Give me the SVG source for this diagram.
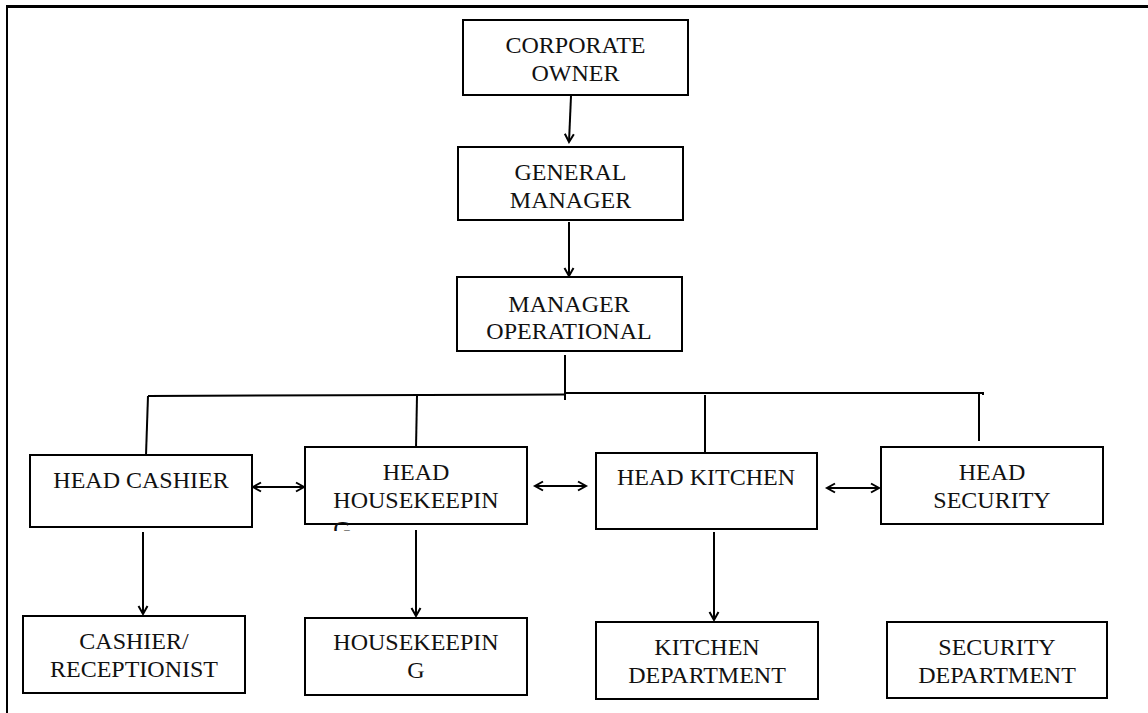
<svg xmlns="http://www.w3.org/2000/svg" width="1148" height="713" viewBox="0 0 1148 713">
<style>
.box{fill:#fff;stroke:#000;stroke-width:2}
.t{font-family:"Liberation Serif","Times New Roman",serif;font-size:24px;fill:#111;text-anchor:middle}
.ln{fill:none;stroke:#000;stroke-width:2}
.ar{fill:none;stroke:#000;stroke-width:2;marker-end:url(#ah)}
.bi{fill:none;stroke:#000;stroke-width:2;marker-start:url(#ah);marker-end:url(#ah)}
</style>
<defs>
<marker id="ah" markerUnits="userSpaceOnUse" markerWidth="12" markerHeight="12" refX="9" refY="5" orient="auto-start-reverse" viewBox="0 0 12 10">
<path d="M1,0.5 L9,5 L1,9.5" fill="none" stroke="#000" stroke-width="2"/>
</marker>
<clipPath id="hhclip"><rect x="305" y="447" width="222" height="84"/></clipPath>
</defs>
<rect width="1148" height="713" fill="#fff"/>
<g id="frame">
<line x1="6" y1="6.5" x2="1148" y2="6.5" stroke="#000" stroke-width="3"/>
<line x1="7" y1="6" x2="7" y2="713" stroke="#000" stroke-width="2"/>
</g>
<g id="connectors">
<line class="ar" x1="571" y1="96" x2="569" y2="142"/>
<line class="ar" x1="569" y1="222" x2="569" y2="276"/>
<line class="ln" x1="565" y1="355" x2="565" y2="400"/>
<line class="ln" x1="148" y1="396" x2="565" y2="394.5"/>
<line class="ln" x1="565" y1="393" x2="983" y2="393"/>
<line class="ln" x1="983" y1="392" x2="983" y2="395"/>
<line class="ln" x1="148" y1="396" x2="146" y2="455"/>
<line class="ln" x1="417" y1="396" x2="416" y2="448"/>
<line class="ln" x1="705" y1="395" x2="705" y2="452"/>
<line class="ln" x1="979" y1="393" x2="979" y2="441"/>
<line class="bi" x1="253" y1="487" x2="304" y2="487"/>
<line class="bi" x1="535" y1="486" x2="586" y2="486"/>
<line class="bi" x1="827" y1="488" x2="879" y2="488"/>
<line class="ar" x1="143" y1="532" x2="143" y2="614"/>
<line class="ar" x1="416" y1="530" x2="416" y2="616"/>
<line class="ar" x1="714" y1="532" x2="714" y2="620"/>
</g>
<g id="corporate-owner">
<rect class="box" x="463" y="20" width="225" height="75"/>
<text class="t" x="575.5" y="53">CORPORATE</text>
<text class="t" x="575.5" y="81">OWNER</text>
</g>
<g id="general-manager">
<rect class="box" x="458" y="147" width="225" height="73"/>
<text class="t" x="570.5" y="180">GENERAL</text>
<text class="t" x="570.5" y="208">MANAGER</text>
</g>
<g id="manager-operational">
<rect class="box" x="457" y="277" width="225" height="74"/>
<text class="t" x="569" y="312">MANAGER</text>
<text class="t" x="569" y="339">OPERATIONAL</text>
</g>
<g id="head-cashier">
<rect class="box" x="30" y="455" width="222" height="72"/>
<text class="t" x="141" y="488">HEAD CASHIER</text>
</g>
<g id="head-housekeeping">
<rect class="box" x="305" y="447" width="222" height="77"/>
<text class="t" x="416" y="480">HEAD</text>
<text class="t" x="416" y="508">HOUSEKEEPIN</text>
<text class="t" x="342" y="537" clip-path="url(#hhclip)">G</text>
</g>
<g id="head-kitchen">
<rect class="box" x="596" y="453" width="221" height="76"/>
<text class="t" x="706" y="485">HEAD KITCHEN</text>
</g>
<g id="head-security">
<rect class="box" x="881" y="447" width="222" height="77"/>
<text class="t" x="992" y="480">HEAD</text>
<text class="t" x="992" y="508">SECURITY</text>
</g>
<g id="cashier-receptionist">
<rect class="box" x="23" y="616" width="222" height="77"/>
<text class="t" x="134" y="649">CASHIER/</text>
<text class="t" x="134" y="677">RECEPTIONIST</text>
</g>
<g id="housekeeping">
<rect class="box" x="305" y="618" width="222" height="77"/>
<text class="t" x="416" y="650">HOUSEKEEPIN</text>
<text class="t" x="416" y="678">G</text>
</g>
<g id="kitchen-department">
<rect class="box" x="596" y="622" width="222" height="77"/>
<text class="t" x="707" y="655">KITCHEN</text>
<text class="t" x="707" y="683">DEPARTMENT</text>
</g>
<g id="security-department">
<rect class="box" x="887" y="622" width="220" height="76"/>
<text class="t" x="997" y="655">SECURITY</text>
<text class="t" x="997" y="683">DEPARTMENT</text>
</g>
</svg>
